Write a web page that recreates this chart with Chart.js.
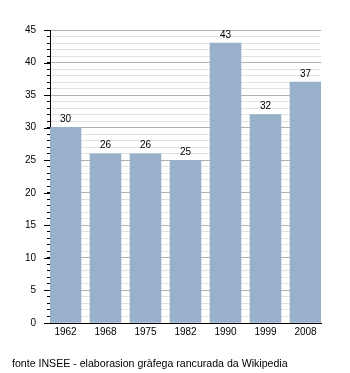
<!DOCTYPE html>
<html>
<head>
<meta charset="utf-8">
<script src="https://cdn.jsdelivr.net/npm/chart.js@4/dist/chart.umd.min.js"></script>
<style>
  body { margin: 0; background: #fff; }
  #wrap { position: relative; width: 350px; height: 373px; }
  #caption {
    position: absolute; left: 12px; top: 357px;
    font: 10.6px "Liberation Sans", Arial, sans-serif; line-height: 12px; color: #000;
  }
</style>
</head>
<body>
<div id="wrap">
  <canvas id="chart" width="350" height="373"></canvas>
  <div id="caption">fonte INSEE - elaborasion gràfega rancurada da Wikipedia</div>
</div>
<script>
const years = ['1962', '1968', '1975', '1982', '1990', '1999', '2008'];
const values = [30, 26, 26, 25, 43, 32, 37];

const FONT = { family: '"Liberation Sans", Arial, sans-serif', size: 10 };

// value labels above bars + longer tick marks on the multiples of 5
const extras = {
  id: 'extras',
  afterDatasetsDraw(chart) {
    const ctx = chart.ctx;
    const meta = chart.getDatasetMeta(0);
    ctx.save();
    ctx.font = '10px "Liberation Sans", Arial, sans-serif';
    ctx.fillStyle = '#000';
    ctx.textAlign = 'center';
    ctx.textBaseline = 'middle';
    meta.data.forEach((bar, i) => {
      ctx.fillText(String(values[i]), bar.x, bar.y - 8);
    });
    const y = chart.scales.y;
    ctx.strokeStyle = '#000';
    ctx.lineWidth = 1;
    for (let v = 0; v <= 45; v += 5) {
      const py = Math.round(y.getPixelForValue(v)) + 0.5;
      ctx.beginPath();
      ctx.moveTo(y.right - 6, py);
      ctx.lineTo(y.right, py);
      ctx.stroke();
    }
    ctx.restore();
  }
};

new Chart(document.getElementById('chart'), {
  type: 'bar',
  data: {
    datasets: [{
      data: years.map((yr, i) => ({ x: i, y: values[i] })),
      backgroundColor: '#98b0ca',
      borderWidth: 0,
      barThickness: 31
    }]
  },
  options: {
    responsive: false,
    animation: false,
    layout: { padding: { top: 30, right: 29, bottom: 30, left: 0 } },
    plugins: { legend: { display: false }, tooltip: { enabled: false } },
    scales: {
      x: {
        type: 'linear',
        offset: false,
        min: -0.3875,
        max: 6.3875,
        afterFit: s => { s.height = 20; },
        grid: { display: false, drawTicks: false, offset: false },
        border: { color: '#000', width: 1 },
        ticks: {
          stepSize: 1,
          includeBounds: false,
          autoSkip: false,
          maxRotation: 0,
          padding: 3,
          color: '#000',
          font: FONT,
          callback: v => years[v] ?? ''
        }
      },
      y: {
        min: 0,
        max: 45,
        afterFit: s => { s.width = 50; },
        border: { color: '#000', width: 1 },
        grid: {
          color: c => (c.tick && c.tick.value % 5 === 0) ? '#b0b0b0' : '#e2e2e2',
          tickColor: '#000',
          tickLength: 3
        },
        ticks: {
          stepSize: 1,
          autoSkip: false,
          padding: 11,
          color: '#000',
          font: FONT,
          callback: v => v % 5 === 0 ? v : ''
        }
      }
    }
  },
  plugins: [extras]
});
</script>
</body>
</html>
